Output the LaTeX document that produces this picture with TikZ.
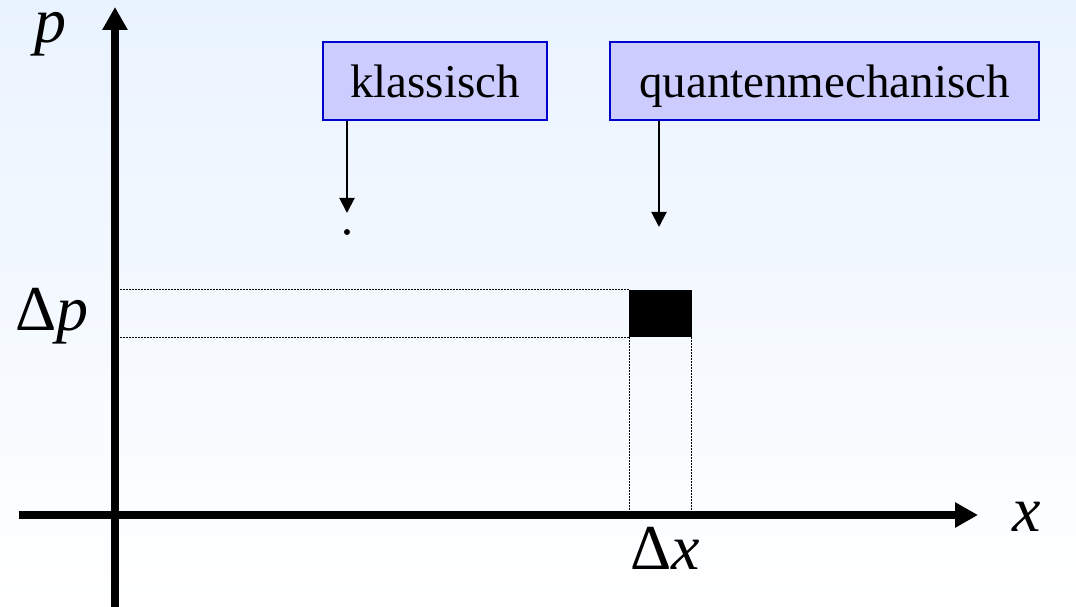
\documentclass[tikz,border=0pt]{standalone}
\usepackage{fontspec}
\setmainfont{Liberation Serif}
\newfontfamily\tnr{Liberation Serif}
\usetikzlibrary{arrows.meta}
\definecolor{bgtop}{RGB}{233,243,255}
\definecolor{boxfill}{RGB}{204,204,255}
\definecolor{boxline}{RGB}{0,0,204}
\tikzset{
  labelbox/.style={draw=boxline, line width=2pt, fill=boxfill, inner sep=0pt,
    minimum height=78pt, text height=33pt, text depth=0pt,
    font=\tnr\fontsize{47}{56}\selectfont},
  pointer/.style={line width=2pt, -{Triangle[length=15pt,width=15pt]}},
  axis/.style={line width=8pt, -{Triangle[length=23pt,width=24pt]}},
  guide/.style={line width=1pt, dash pattern=on 1.5pt off 1.5pt},
  mathlabel/.style={anchor=base, inner sep=0pt, text height=30pt, text depth=0pt,
    font=\tnr\fontsize{64}{70}\selectfont}
}
\begin{document}
\begin{tikzpicture}[x=1pt,y=1pt]
\useasboundingbox (0,0) rectangle (1076,607);
\shade[top color=bgtop, bottom color=white] (0,0) rectangle (1076,607);

% axes
\coordinate (yb) at (115,0);
\coordinate (yt) at (115,600);
\coordinate (xl) at (19,92);
\coordinate (xr) at (978,92);
\draw[axis] (xl) -- (xr);
\draw[axis] (yb) -- (yt);

% axis labels
\node[mathlabel] (plab) at (50,564) {\itshape p};
\node[mathlabel] (xlab) at (1027,75) {\itshape x};
\node[mathlabel] (dp) at (52,276) {Δ\itshape p};
\node[mathlabel] (dx) at (665,37) {Δ\itshape x};

% quantum cell
\node[fill=black, inner sep=0pt, minimum width=63pt, minimum height=47pt] (cell) at (660.5,293.5) {};
\coordinate (ya) at (119,0);
\draw[guide] (cell.north west) -- (cell.north west -| ya);
\draw[guide] (cell.south west) -- (cell.south west -| ya);
\draw[guide] ([xshift=1pt]cell.south west) -- ([xshift=1pt]cell.south west |- xl);
\draw[guide] ([xshift=-1pt]cell.south east) -- ([xshift=-1pt]cell.south east |- xl);

% boxes
\node[labelbox, minimum width=224pt] (kbox) at (435,526) {klassisch};
\node[labelbox, minimum width=429pt] (qbox) at (824.5,526) {quantenmechanisch};

% pointers
\coordinate (kt) at (347,394);
\coordinate (qt) at (659,380);
\draw[pointer] (kbox.south -| kt) -- (kt);
\draw[pointer] (qbox.south -| qt) -- (qt);

% classical point
\fill (347,375) circle (3pt);
\end{tikzpicture}
\end{document}
